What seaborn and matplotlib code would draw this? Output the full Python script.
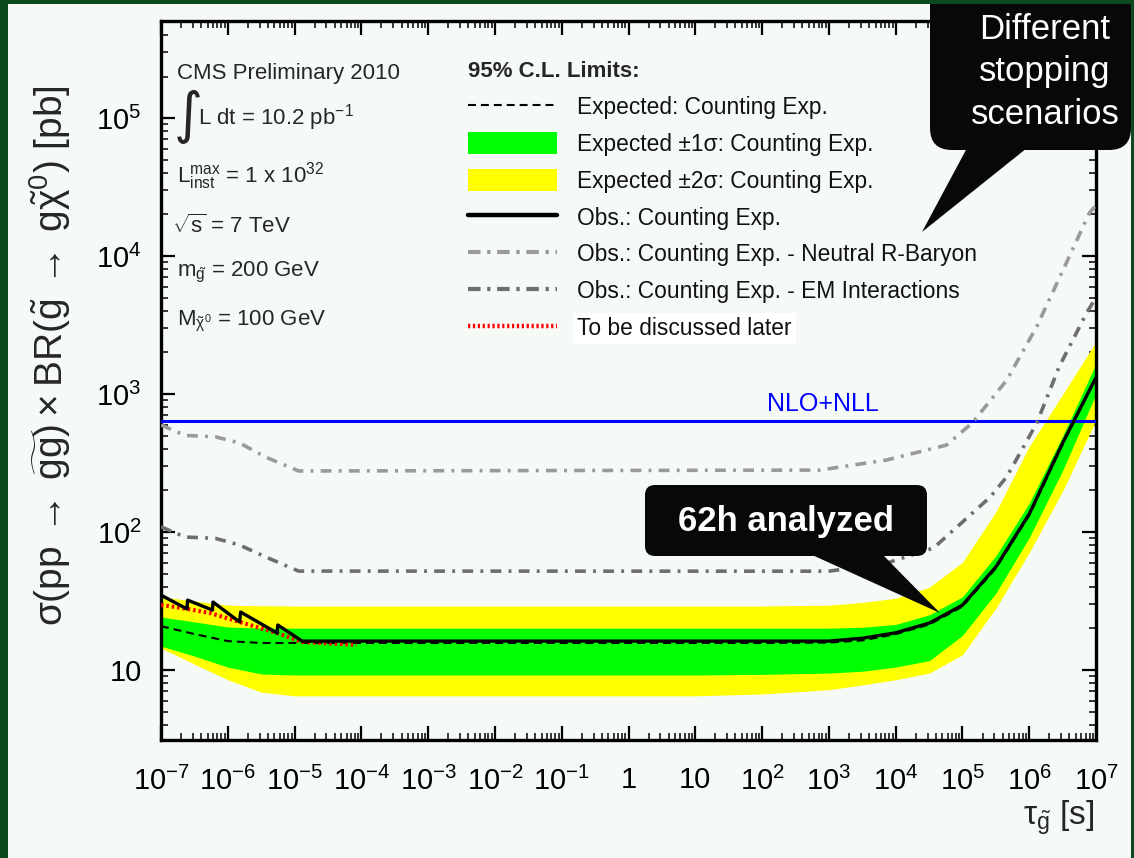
import numpy as np
import pandas as pd
import matplotlib
matplotlib.use("Agg")
import matplotlib.pyplot as plt
import seaborn as sns
from matplotlib.patches import FancyBboxPatch, Polygon, Rectangle, Patch
from matplotlib.lines import Line2D
from matplotlib.ticker import FixedLocator, FixedFormatter, LogLocator, NullFormatter
from matplotlib.transforms import IdentityTransform

# ---------------- data ----------------
tau_band = [1e-7, 3.2e-7, 1e-6, 3.2e-6, 1e-5, 1e-4, 1e-3, 1e-2, 1e-1, 1, 10, 1e2,
            1e3, 3.2e3, 1e4, 3.2e4, 1e5, 3.2e5, 1e6, 3.2e6, 1e7]
yellow_hi = [33.9, 31.6, 29.5, 29.2, 29.1, 29.1, 29.1, 29.1, 29.1, 29.1, 29.1, 29.1,
             29.5, 30.9, 33.1, 39.8, 60.3, 141, 417, 1000, 2400]
green_hi = [24.2, 22.3, 20.5, 20.1, 20.1, 20.1, 20.1, 20.1, 20.1, 20.1, 20.1, 20.1,
            20.1, 20.4, 21.4, 25.1, 33.9, 67.6, 162, 501, 1660]
expected = [20.8, 18.2, 16.2, 15.7, 15.7, 15.7, 15.7, 15.7, 15.7, 15.7, 15.7, 15.7,
            15.8, 16.4, 18.2, 21.4, 28.8, 55.0, 132, 437, 1300]
green_lo = [14.9, 12.6, 10.5, 9.35, 9.2, 9.2, 9.2, 9.2, 9.2, 9.2, 9.2, 9.3,
            9.5, 9.8, 10.5, 11.7, 17.8, 36.3, 91, 282, 1000]
yellow_lo = [14.4, 11.0, 8.5, 6.9, 6.5, 6.5, 6.5, 6.5, 6.5, 6.5, 6.5, 6.7,
             7.2, 7.8, 8.5, 9.5, 12.9, 28.2, 71, 200, 645]

obs_tau = [1e-7, 2.45e-7, 2.5e-7, 5.9e-7, 6.0e-7, 1.5e-6, 1.56e-6, 5.5e-6, 5.6e-6,
           1.3e-5, 1e3, 3.2e3, 1e4, 3.2e4, 1e5, 3.2e5, 1e6, 3.2e6, 1e7]
obs_xsec = [34.9, 27.7, 32.1, 27.2, 31.1, 22.3, 26.3, 18.5, 21.2,
            16.2, 16.2, 17.0, 18.6, 21.9, 29.5, 56.2, 135, 447, 1320]

red_tau = [1e-7, 2.1e-7, 5.4e-7, 1.5e-6, 5.5e-6, 1.3e-5, 8.5e-5]
red_xsec = [29.6, 28.1, 25.9, 22.3, 18.5, 16.0, 15.2]

neutral_tau = [1e-7, 2.3e-7, 6.5e-7, 1.5e-6, 3.7e-6, 1.15e-5, 7.4e2, 7.4e3, 5.8e4,
               1.4e5, 4.6e5, 1.3e6, 3.6e6, 7.9e6, 1e7]
neutral_xsec = [596, 501, 490, 442, 349, 277, 281, 333, 427,
                617, 1259, 3090, 8913, 20400, 23400]

em_tau = [1e-7, 2.3e-7, 6.5e-7, 1.5e-6, 3.7e-6, 1.15e-5, 1e3, 7.4e3, 3.7e4,
          2.6e5, 4.6e5, 1.3e6, 2.8e6, 7.2e6, 1e7]
em_xsec = [109, 92, 90, 80.5, 65.9, 52.1, 52, 59.6, 76.6,
           179, 251, 617, 1570, 3860, 5010]

nlo_tau = [1e-7, 1e7]
nlo_xsec = [637, 637]

x_ticks = [1e-7, 1e-6, 1e-5, 1e-4, 1e-3, 1e-2, 1e-1, 1, 10, 1e2, 1e3, 1e4, 1e5, 1e6, 1e7]
x_tick_labels = [r'$10^{-7}$', r'$10^{-6}$', r'$10^{-5}$', r'$10^{-4}$', r'$10^{-3}$',
                 r'$10^{-2}$', r'$10^{-1}$', '1', '10', r'$10^{2}$', r'$10^{3}$',
                 r'$10^{4}$', r'$10^{5}$', r'$10^{6}$', r'$10^{7}$']
y_ticks = [10, 1e2, 1e3, 1e4, 1e5]
y_tick_labels = ['10', r'$10^{2}$', r'$10^{3}$', r'$10^{4}$', r'$10^{5}$']

legend_labels = ['Expected: Counting Exp.',
                 'Expected \u00b11\u03c3: Counting Exp.',
                 'Expected \u00b12\u03c3: Counting Exp.',
                 'Obs.: Counting Exp.',
                 'Obs.: Counting Exp. - Neutral R-Baryon',
                 'Obs.: Counting Exp. - EM Interactions',
                 'To be discussed later']

# ---------------- style ----------------
sns.set_theme(style="ticks")
plt.rcParams['font.family'] = ['Liberation Sans', 'DejaVu Sans']
plt.rcParams['mathtext.fontset'] = 'custom'
plt.rcParams['mathtext.rm'] = 'Liberation Sans'
plt.rcParams['mathtext.it'] = 'Liberation Sans:italic'
plt.rcParams['mathtext.bf'] = 'Liberation Sans:bold'
plt.rcParams['mathtext.sf'] = 'Liberation Sans'
plt.rcParams['mathtext.default'] = 'regular'

W, H = 1134, 858
BG = '#f5faf7'
fig = plt.figure(figsize=(W / 100, H / 100), dpi=100, facecolor=BG)
ax = fig.add_axes([161 / W, 1 - 740 / H, (1096 - 161) / W, (740 - 21) / H])
ax.set_facecolor(BG)
ax.set_xscale('log')
ax.set_yscale('log')
ax.set_xlim(1e-7, 1e7)
ax.set_ylim(3.11, 5.05e5)

# bands
ax.fill_between(tau_band, yellow_lo, yellow_hi, color='#ffff00', lw=0, zorder=1)
ax.fill_between(tau_band, green_lo, green_hi, color='#00ff00', lw=0, zorder=2)

def line(x, y, **kw):
    sns.lineplot(x=x, y=y, ax=ax, estimator=None, sort=False, legend=False, **kw)
    return ax.lines[-1]

l = line(tau_band, expected, color='black', lw=1.5, zorder=3)
l.set_dashes([3.8, 2.4])
line(nlo_tau, nlo_xsec, color='#0000ff', lw=2.2, zorder=4)
l = line(neutral_tau, neutral_xsec, color='#9a9a9a', lw=2.6, zorder=5)
l.set_dashes([3.0, 2.0, 0.8, 2.0])
l = line(em_tau, em_xsec, color='#6e6e6e', lw=2.6, zorder=5)
l.set_dashes([3.0, 2.0, 0.8, 2.0])
l = line(red_tau, red_xsec, color='#ff0000', lw=3.0, zorder=5)
l.set_dashes([0.6, 0.7])
line(obs_tau, obs_xsec, color='black', lw=2.4, zorder=6)

ax.text(8.0e2, 690, 'NLO+NLL', color='#0000ff', fontsize=18, ha='center', va='bottom', zorder=7)

# axes styling (ROOT-like)
ax.xaxis.set_major_locator(FixedLocator(x_ticks))
ax.xaxis.set_major_formatter(FixedFormatter(x_tick_labels))
ax.xaxis.set_minor_locator(LogLocator(base=10, subs=np.arange(2, 10), numticks=100))
ax.xaxis.set_minor_formatter(NullFormatter())
ax.yaxis.set_major_locator(FixedLocator(y_ticks))
ax.yaxis.set_major_formatter(FixedFormatter(y_tick_labels))
ax.yaxis.set_minor_locator(LogLocator(base=10, subs=np.arange(2, 10), numticks=100))
ax.yaxis.set_minor_formatter(NullFormatter())
ax.tick_params(which='major', direction='in', length=10, width=1.6, top=True, right=True,
               labelsize=21, colors='black')
ax.tick_params(axis='x', which='major', pad=19)
ax.tick_params(axis='y', which='major', pad=14)
ax.tick_params(which='minor', direction='in', length=5, width=1.3, top=True, right=True)
for s in ax.spines.values():
    s.set_linewidth(2.4)
    s.set_color('black')

ax.set_ylabel(r'$\sigma(pp\: \rightarrow\: \widetilde{gg})\: \times\: BR(\tilde{g}\: \rightarrow\: g\tilde{\chi}^{0})$ [pb]',
              fontsize=28)
ax.yaxis.set_label_coords(-0.094, 0.535)
fig.text(1095 / W, 1 - 818 / H, r'$\tau_{\tilde{g}}$ [s]', fontsize=24, ha='right', va='center')

# legend
handles = [Line2D([], [], color='black', lw=1.5, dashes=[3.8, 2.4]),
           Patch(facecolor='#00ff00', edgecolor='none'),
           Patch(facecolor='#ffff00', edgecolor='none'),
           Line2D([], [], color='black', lw=3.2),
           Line2D([], [], color='#9a9a9a', lw=3.0, dashes=[3.0, 1.6, 0.8, 1.6]),
           Line2D([], [], color='#6e6e6e', lw=3.0, dashes=[3.0, 1.6, 0.8, 1.6]),
           Line2D([], [], color='#ff0000', lw=3.2, dashes=[0.5, 0.6])]
leg = ax.legend(handles, legend_labels, title='95% C.L. Limits:',
                title_fontproperties={'weight': 'bold', 'size': 16}, alignment='left',
                frameon=False, loc='upper left', bbox_to_anchor=(468 / W, 1 - 61 / H),
                bbox_transform=fig.transFigure, fontsize=16.4, handlelength=3.9,
                handleheight=1.1, handletextpad=0.9, labelspacing=0.58,
                borderpad=0, borderaxespad=0)
leg.set_zorder(20)
for t in leg.get_texts():
    t.set_color('#111111')
leg.get_texts()[-1].set_bbox(dict(facecolor='white', edgecolor='none', pad=3))

# info text block
T = IdentityTransform()
def P(x, y):
    return (x, H - y)

fig.text(*P(177, 73), 'CMS Preliminary 2010', fontsize=16, va='center', transform=T)
fig.text(*P(174, 117), '\u222b', fontsize=40, va='center', transform=T, family='DejaVu Sans')
fig.text(*P(198, 118), r'L dt = 10.2 pb$^{-1}$', fontsize=16, va='center', transform=T)
fig.text(*P(177, 176), r'L$_{inst}^{max}$ = 1 x 10$^{32}$', fontsize=16, va='center', transform=T)
fig.text(*P(172, 226), r'$\sqrt{s}$ = 7 TeV', fontsize=16, va='center', transform=T)
fig.text(*P(177, 272), r'm$_{\tilde{g}}$ = 200 GeV', fontsize=16, va='center', transform=T)
fig.text(*P(177, 321), r'M$_{\tilde{\chi}^{0}}$ = 100 GeV', fontsize=16, va='center', transform=T)

# callouts
b1 = FancyBboxPatch(P(930, 150), 1131 - 930, 175, boxstyle='round,pad=0,rounding_size=22',
                    transform=T, fc='#080808', ec='none', zorder=30)
fig.add_artist(b1)
fig.add_artist(Polygon([P(967, 148), P(1027, 148), P(922, 232)], closed=True,
                       transform=T, fc='#080808', ec='none', zorder=30))
fig.text(*P(1045, 72), 'Different\nstopping\nscenarios', fontsize=25, color='white',
         ha='center', va='center', linespacing=1.38, transform=T, zorder=31)

b2 = FancyBboxPatch(P(645, 556), 927 - 645, 556 - 485, boxstyle='round,pad=0,rounding_size=10',
                    transform=T, fc='#080808', ec='none', zorder=30)
fig.add_artist(b2)
fig.add_artist(Polygon([P(810, 554), P(882, 554), P(940, 613)], closed=True,
                       transform=T, fc='#080808', ec='none', zorder=30))
fig.text(*P(786, 522), '62h analyzed', fontsize=25, fontweight='bold', color='white',
         ha='center', va='center', transform=T, zorder=31)

# dark green frame
green = '#0b4a1e'
fig.add_artist(Rectangle((0, 0), 8, H, transform=T, fc=green, ec='none', zorder=40))
fig.add_artist(Rectangle((0, H - 4), W, 4, transform=T, fc=green, ec='none', zorder=40))
fig.add_artist(Rectangle((W - 3, 0), 3, H, transform=T, fc=green, ec='none', zorder=40))

fig.savefig('out.png', dpi=100, facecolor=BG)
